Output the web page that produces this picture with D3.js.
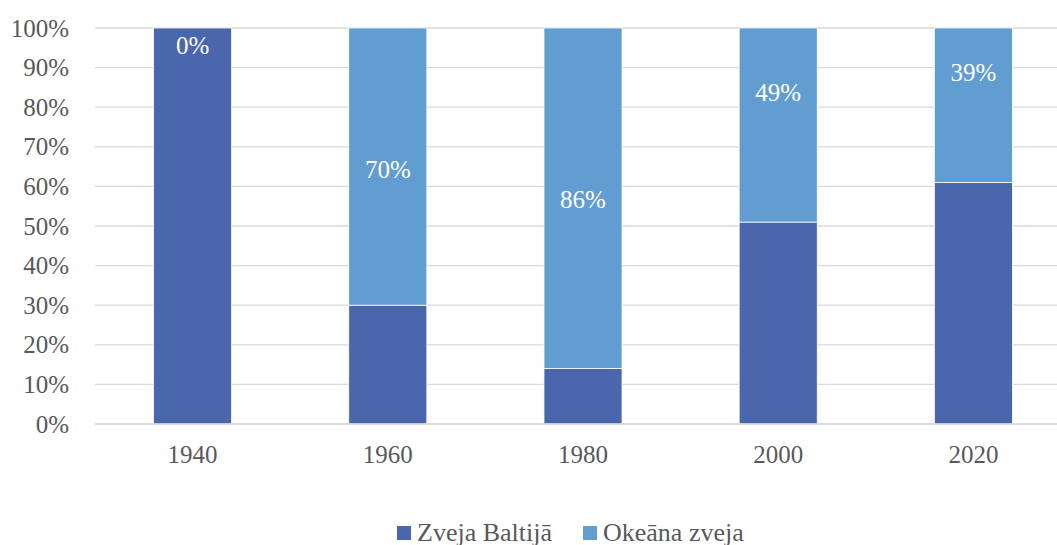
<!DOCTYPE html>
<html>
<head>
<meta charset="utf-8">
<script src="https://cdn.jsdelivr.net/npm/d3@7"></script>
<style>
  body { margin: 0; background: #fff; }
  svg text { font-family: "Liberation Serif", "Times New Roman", serif; }
</style>
</head>
<body>
<svg id="chart"></svg>
<script>
const years = ["1940", "1960", "1980", "2000", "2020"];
const baltic = [100, 30, 14, 51, 61];
const ocean = [0, 70, 86, 49, 39];
const oceanLabels = ["0%", "70%", "86%", "49%", "39%"];
// where each label sits, in percent units (moved by hand in the original)
const labelAt = [95.7, 64.3, 56.8, 83.7, 88.8];
const yTicks = [0, 10, 20, 30, 40, 50, 60, 70, 80, 90, 100];
const seriesNames = ["Zveja Baltijā", "Okeāna zveja"];

const svgWidth = 1057, svgHeight = 545;
const colors = ["#4A66AC", "#629DD1"];
const serif = "Liberation Serif";

const svg = d3.select("#chart")
  .attr("width", svgWidth)
  .attr("height", svgHeight);

const x = d3.scaleBand()
  .domain(years)
  .range([95, 1071])
  .paddingInner(0.6)
  .paddingOuter(0.3);

const y = d3.scaleLinear()
  .domain([0, 100])
  .range([424, 28]);

// gridlines
svg.append("g")
  .selectAll("line")
  .data(yTicks)
  .enter()
  .append("line")
  .attr("x1", 95)
  .attr("x2", 1071)
  .attr("y1", (d) => y(d))
  .attr("y2", (d) => y(d))
  .attr("stroke", "#d9d9d9")
  .attr("stroke-width", 1.3);

// y axis labels
const yAxis = svg.append("g")
  .attr("transform", "translate(69,0)")
  .call(d3.axisLeft(y).tickValues(yTicks).tickFormat((d) => d + "%").tickSize(0).tickPadding(0));
yAxis.select(".domain").remove();
yAxis.selectAll("text")
  .attr("font-size", 25)
  .attr("fill", "#595959")
  .attr("font-family", serif);

// stacked bars
const rows = years.map((yr, i) => ({ year: yr, baltic: baltic[i], ocean: ocean[i] }));
const stacked = d3.stack().keys(["baltic", "ocean"])(rows);

svg.append("g")
  .selectAll("g")
  .data(stacked)
  .enter()
  .append("g")
  .attr("fill", (d, i) => colors[i])
  .selectAll("rect")
  .data((d) => d)
  .enter()
  .append("rect")
  .attr("x", (d) => x(d.data.year))
  .attr("width", x.bandwidth())
  .attr("y", (d) => y(d[1]))
  .attr("height", (d) => y(d[0]) - y(d[1]))
  .attr("stroke", "#fff")
  .attr("stroke-width", 0.8);

// baseline over bars
svg.append("line")
  .attr("x1", 95).attr("x2", 1071)
  .attr("y1", y(0)).attr("y2", y(0))
  .attr("stroke", "#d9d9d9")
  .attr("stroke-width", 1.3);

// data labels
svg.append("g")
  .selectAll("text")
  .data(oceanLabels)
  .enter()
  .append("text")
  .attr("x", (d, i) => x(years[i]) + x.bandwidth() / 2)
  .attr("y", (d, i) => y(labelAt[i]))
  .attr("dy", "0.35em")
  .attr("text-anchor", "middle")
  .attr("font-size", 25)
  .attr("font-family", serif)
  .attr("fill", "#fff")
  .text((d) => d);

// x axis labels
const xAxis = svg.append("g")
  .attr("transform", `translate(0,${y(0)})`)
  .call(d3.axisBottom(x).tickSize(0).tickPadding(21));
xAxis.select(".domain").remove();
xAxis.selectAll("text")
  .attr("font-size", 25)
  .attr("fill", "#595959")
  .attr("font-family", serif);

// legend
const legend = svg.append("g").attr("transform", "translate(397,532)");
const legendX = [0, 186];
const items = legend.selectAll("g")
  .data(seriesNames)
  .enter()
  .append("g")
  .attr("transform", (d, i) => `translate(${legendX[i]},0)`);
items.append("rect")
  .attr("x", 0).attr("y", -6)
  .attr("width", 14).attr("height", 14)
  .attr("fill", (d, i) => colors[i]);
items.append("text")
  .attr("x", 20)
  .attr("dy", "0.35em")
  .attr("font-size", 26)
  .attr("font-family", serif)
  .attr("fill", "#595959")
  .text((d) => d);
</script>
</body>
</html>
